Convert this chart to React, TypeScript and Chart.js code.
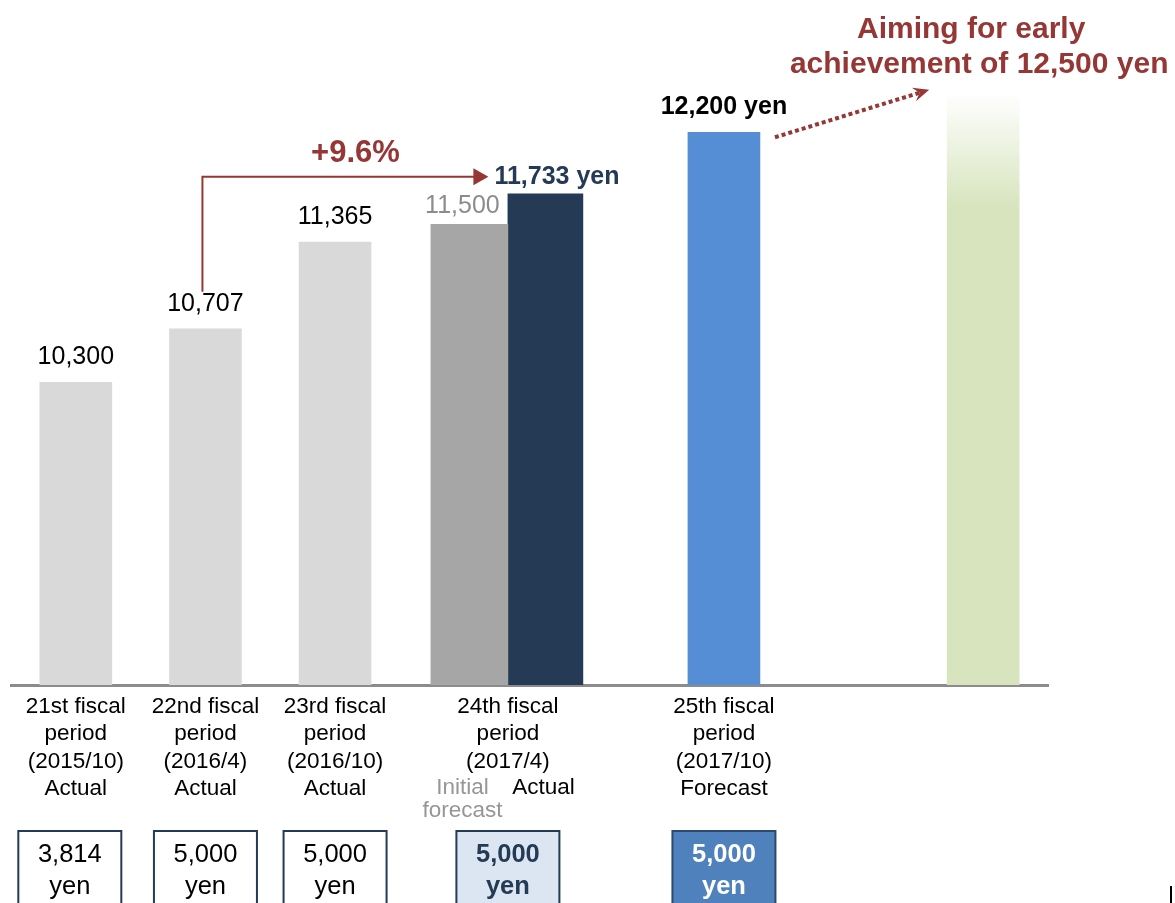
import { useEffect, useRef } from "react";
import { Chart, registerables } from "chart.js";

Chart.register(...registerables);

// ---------------- data ----------------
const periodLabels: string[][] = [
  ["21st fiscal", "period", "(2015/10)", "Actual"],
  ["22nd fiscal", "period", "(2016/4)", "Actual"],
  ["23rd fiscal", "period", "(2016/10)", "Actual"],
  ["24th fiscal", "period", "(2017/4)"],
  ["25th fiscal", "period", "(2017/10)", "Forecast"],
  [],
];
// distribution-related unit price values (yen); 24th period shown as two bars
const unitPrices: (number | null)[] = [10300, 10707, 11365, null, 12200, 12500];
const period24InitialForecast = 11500;
const period24Actual = 11733;
const period24SubLabels = ["Initial", "forecast"];
const period24ActualLabel = "Actual";
const growthRate = "+9.6%";
const targetHeadline = ["Aiming for early", "achievement of 12,500 yen"];
const dividends = [3814, 5000, 5000, 5000, 5000];

// ---------------- layout / style ----------------
const SLOT_COUNT = 24;
const PERIOD_SLOTS = [1, 4, 7, 11, 16, 22];
const FONT = "'Liberation Sans', Arial, Helvetica, sans-serif";
const RED = "#953735";
const NAVY = "#243a55";
const LIGHT = "#d9d9d9";
const BLUE = "#558ed5";
const GREEN = "#d7e4bd";

const fmt = (v: number) => v.toLocaleString("en-US");

const labels: (string | string[])[] = Array.from({ length: SLOT_COUNT }, () => "");
PERIOD_SLOTS.forEach((s, i) => {
  if (periodLabels[i].length) labels[s] = periodLabels[i];
});
const mainData: (number | null)[] = Array(SLOT_COUNT).fill(null);
PERIOD_SLOTS.forEach((s, i) => {
  mainData[s] = unitPrices[i];
});
const forecastData: (number | null)[] = Array(SLOT_COUNT).fill(null);
forecastData[PERIOD_SLOTS[3]] = period24InitialForecast;
const actualData: (number | null)[] = Array(SLOT_COUNT).fill(null);
actualData[PERIOD_SLOTS[3]] = period24Actual;

const TICK_PAD = 0;
const TICK_LH = 27.5;

const annotationPlugin = {
  id: "annotations",
  afterDraw(chart: any) {
    const ctx: CanvasRenderingContext2D = chart.ctx;
    const xs = chart.scales.x;
    const main = chart.getDatasetMeta(0).data;
    const fc = chart.getDatasetMeta(1).data[PERIOD_SLOTS[3]];
    const ac = chart.getDatasetMeta(2).data[PERIOD_SLOTS[3]];
    const bottom = chart.chartArea.bottom;

    ctx.save();
    const text = (
      s: string,
      px: number,
      py: number,
      font: string,
      color: string,
      align: CanvasTextAlign = "center",
      base: CanvasTextBaseline = "alphabetic"
    ) => {
      ctx.font = font;
      ctx.fillStyle = color;
      ctx.textAlign = align;
      ctx.textBaseline = base;
      ctx.fillText(s, px, py);
    };

    // value labels
    [0, 1, 2].forEach((i) => {
      const b = main[PERIOD_SLOTS[i]];
      text(fmt(unitPrices[i] as number), b.x, b.y - 18, `25px ${FONT}`, "#000");
    });
    text(fmt(period24InitialForecast), fc.x - 7, fc.y - 11, `25px ${FONT}`, "#8c8c8c");
    const b5 = main[PERIOD_SLOTS[4]];
    text(`${fmt(unitPrices[4] as number)} yen`, b5.x, b5.y - 18, `bold 25px ${FONT}`, "#000");

    // elbow arrow with growth rate
    const b2 = main[PERIOD_SLOTS[1]];
    const vx = b2.x - 3;
    const vy0 = b2.y - 37;
    const hy = ac.y - 17;
    const tipX = ac.x - 57;
    ctx.strokeStyle = RED;
    ctx.fillStyle = RED;
    ctx.lineWidth = 2;
    ctx.beginPath();
    ctx.moveTo(vx, vy0);
    ctx.lineTo(vx, hy);
    ctx.lineTo(tipX - 12, hy);
    ctx.stroke();
    ctx.beginPath();
    ctx.moveTo(tipX, hy);
    ctx.lineTo(tipX - 15, hy - 8.5);
    ctx.lineTo(tipX - 15, hy + 8.5);
    ctx.closePath();
    ctx.fill();
    text(growthRate, (vx + tipX) / 2 + 10, hy - 15, `bold 31px ${FONT}`, RED);
    text(`${fmt(period24Actual)} yen`, tipX + 6, hy + 7, `bold 25px ${FONT}`, NAVY, "left");

    // dotted arrow to target
    const g = main[PERIOD_SLOTS[5]];
    const sx = b5.x + 51;
    const sy = b5.y + 5;
    const ex = g.x - 54;
    const ey = g.y - 3;
    const ang = Math.atan2(ey - sy, ex - sx);
    const len = Math.hypot(ex - sx, ey - sy);
    const ux = Math.cos(ang);
    const uy = Math.sin(ang);
    ctx.save();
    ctx.setLineDash([4, 3]);
    ctx.lineCap = "butt";
    ctx.lineWidth = 4;
    ctx.strokeStyle = RED;
    ctx.beginPath();
    ctx.moveTo(sx, sy);
    ctx.lineTo(sx + ux * (len - 10), sy + uy * (len - 10));
    ctx.stroke();
    ctx.restore();
    const px = -uy;
    const py = ux;
    ctx.fillStyle = RED;
    ctx.beginPath();
    ctx.moveTo(ex, ey);
    ctx.lineTo(ex - ux * 16 + px * 7, ey - uy * 16 + py * 7);
    ctx.lineTo(ex - ux * 10, ey - uy * 10);
    ctx.lineTo(ex - ux * 16 - px * 7, ey - uy * 16 - py * 7);
    ctx.closePath();
    ctx.fill();

    // headline
    text(targetHeadline[0], g.x - 12, 38, `bold 30px ${FONT}`, RED);
    text(targetHeadline[1], g.x - 4, 73, `bold 30px ${FONT}`, RED);

    // 24th period sub labels (same row as the 4th tick-label line)
    const line4 = bottom + 6 + TICK_PAD + TICK_LH / 2 + 3 * TICK_LH + 1;
    text(period24SubLabels[0], fc.x - 7, line4, `22.5px ${FONT}`, "#969696", "center", "middle");
    text(period24SubLabels[1], fc.x - 7, line4 + 23, `22.5px ${FONT}`, "#969696", "center", "middle");
    text(period24ActualLabel, ac.x - 2, line4, `22.5px ${FONT}`, "#000", "center", "middle");

    // dividend boxes
    PERIOD_SLOTS.slice(0, 5).forEach((s, i) => {
      const cx = xs.getPixelForValue(s) - (i === 0 ? 6 : 0);
      const w = 103;
      const top = bottom + 146;
      let fill = "#ffffff";
      let stroke = NAVY;
      let color = "#000";
      let weight = "";
      if (i === 3) {
        fill = "#dce6f2";
        color = NAVY;
        weight = "bold ";
      } else if (i === 4) {
        fill = "#4f81bd";
        stroke = "#2c4a6e";
        color = "#ffffff";
        weight = "bold ";
      }
      ctx.fillStyle = fill;
      ctx.fillRect(cx - w / 2, top, w, 90);
      ctx.strokeStyle = stroke;
      ctx.lineWidth = 2;
      ctx.strokeRect(cx - w / 2, top, w, 90);
      text(fmt(dividends[i]), cx, top + 31, `${weight}25.5px ${FONT}`, color);
      text("yen", cx, top + 63, `${weight}25.5px ${FONT}`, color);
    });

    // cut-off edge mark at the bottom right
    ctx.fillStyle = "#000";
    ctx.fillRect(1170, 886, 2, 17);

    ctx.restore();
  },
};

export default function App() {
  const ref = useRef<HTMLCanvasElement | null>(null);

  useEffect(() => {
    if (!ref.current) return;
    const chart = new Chart(ref.current, {
      type: "bar",
      data: {
        labels,
        datasets: [
          {
            data: mainData,
            skipNull: true,
            barThickness: 72,
            backgroundColor: (c: any) => {
              const p = PERIOD_SLOTS.indexOf(c.dataIndex);
              if (p === 5) {
                const chart = c.chart;
                if (!chart.chartArea) return GREEN;
                const y0 = chart.scales.y.getPixelForValue(unitPrices[5] as number);
                const grad = chart.ctx.createLinearGradient(0, y0, 0, y0 + 115);
                grad.addColorStop(0, "#ffffff");
                grad.addColorStop(1, GREEN);
                return grad;
              }
              if (p === 4) return BLUE;
              return LIGHT;
            },
          } as any,
          {
            data: forecastData,
            skipNull: true,
            barThickness: 77,
            backgroundColor: "#a6a6a6",
          } as any,
          {
            data: actualData,
            skipNull: true,
            barThickness: 75,
            backgroundColor: NAVY,
          } as any,
        ],
      },
      options: {
        animation: false,
        responsive: false,
        maintainAspectRatio: false,
        layout: { padding: { top: 27, left: 11, right: 127, bottom: 0 } },
        plugins: {
          legend: { display: false },
          tooltip: { enabled: false },
        },
        scales: {
          x: {
            grid: { display: false },
            border: { display: true, color: "#8c8c8c", width: 3 },
            ticks: {
              autoSkip: false,
              maxRotation: 0,
              minRotation: 0,
              padding: TICK_PAD,
              color: "#000",
              font: { family: FONT, size: 22.5, lineHeight: TICK_LH / 22.5 },
            },
            afterFit: (scale: any) => {
              scale.height = 218;
            },
          },
          y: {
            display: false,
            min: 8000,
            max: 13000,
          },
        },
      },
      plugins: [annotationPlugin],
    });
    return () => chart.destroy();
  }, []);

  return (
    <div style={{ position: "absolute", left: 0, top: 0, width: 1175, height: 903, background: "#fff" }}>
      <canvas ref={ref} width={1175} height={903} style={{ display: "block" }} />
    </div>
  );
}
